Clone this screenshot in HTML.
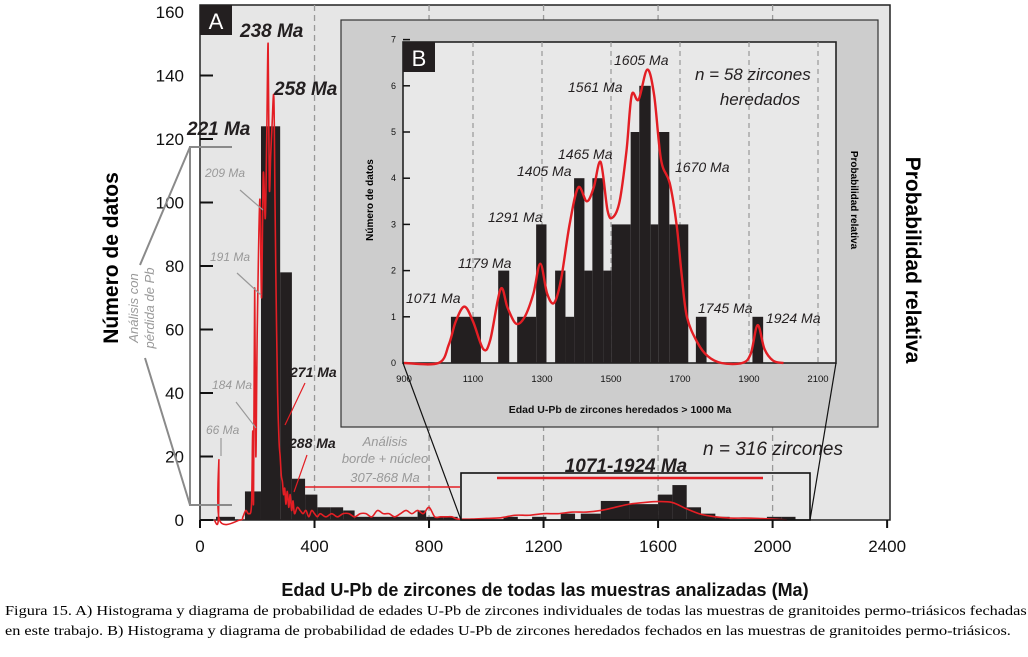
<!DOCTYPE html>
<html><head><meta charset="utf-8"><style>
body{margin:0;background:#fff;width:1028px;height:657px;overflow:hidden}
svg{position:absolute;left:0;top:0}
.cap{position:absolute;left:5px;font-family:"Liberation Serif",serif;font-size:13.8px;color:#000;white-space:nowrap;transform-origin:0 0;transform:scaleX(1.18)}
</style></head><body>
<svg id="chart" width="1028" height="657" xmlns="http://www.w3.org/2000/svg" font-family="Liberation Sans, sans-serif"></svg>
<div class="cap" style="top:603px">Figura 15. A) Histograma y diagrama de probabilidad de edades U-Pb de zircones individuales de todas las muestras de granitoides permo-triásicos fechadas</div>
<div class="cap" style="top:623px">en este trabajo. B) Histograma y diagrama de probabilidad de edades U-Pb de zircones heredados fechados en las muestras de granitoides permo-triásicos.</div>
<script>
// ---- Panel A data ----
const aBinStart=[56,157,213,280,321,367,410,455,500,540,760,790,850,1060,1160,1260,1330,1400,1500,1600,1650,1700,1750,1800,1980,2030];
const aBinEnd=[122,213,280,321,367,410,455,500,540,760,790,850,900,1110,1210,1310,1400,1500,1600,1650,1700,1750,1800,1850,2030,2080];
const aCounts=[1,9,124,78,13,8,4,4,3,1,3,1,1,1,1,2,2,6,5,8,11,4,2,1,1,1];
const aCurveAge=[50,64,66,68,140,150,160,170,180,184,187,191,195,200,209,215,221,228,233,238,242,247,252,258,262,266,271,276,280,284,288,292,296,300,305,310,315,320,325,330,340,350,360,370,380,390,400,410,420,440,460,480,500,520,540,560,580,600,620,640,660,680,700,720,740,760,780,800,820,840,860,880,900,950,1000,1050,1100,1150,1200,1250,1300,1350,1400,1450,1500,1550,1600,1650,1700,1750,1800,1850,1900,1950,2000,2050];
const aCurveVal=[0,0,19,0,0,1,3,2,5,28,6,73,20,60,101,70,109,95,120,150,105,115,125,133,100,70,40,25,20,14,12,8,10,5,9,4,8,3,6,2,4,3,2,3,1,3,2,1,2,1,2,1,2,2,1,2,2,1,3,2,2,1,2,3,2,3,2,4,1,1,1,1,0.3,0.3,0.5,0.7,1.5,1.5,2,2,2.5,2.5,3,4,5,5.5,5.8,5.5,3.5,1.8,1,0.6,0.6,0.5,0.3,0];
const aYTicks=[0,20,40,60,80,100,120,140,160];
const aXTicks=[0,400,800,1200,1600,2000,2400];
// ---- Panel B data ----
const bBinStart=[1036,1173,1228,1283,1338,1368,1393,1423,1446,1478,1502,1557,1582,1615,1637,1669,1746,1910];
const bBinEnd=[1123,1205,1283,1313,1368,1393,1423,1446,1478,1502,1557,1582,1615,1637,1669,1724,1777,1941];
const bCounts=[1,2,1,3,2,1,4,2,4,2,3,5,6,3,5,3,1,1];
const bCurveAge=[900,1000,1030,1050,1075,1100,1130,1150,1180,1200,1225,1250,1275,1295,1315,1335,1355,1380,1405,1430,1450,1470,1490,1505,1525,1545,1560,1580,1605,1625,1645,1670,1690,1705,1720,1750,1780,1820,1880,1905,1925,1945,1970,2000];
const bCurveVal=[0,0,0.4,0.9,1.22,0.9,0.3,0.5,1.6,1.2,0.85,1.0,1.5,2.15,1.5,1.3,1.8,3.0,3.8,3.5,3.8,4.35,3.3,3.15,3.5,4.6,5.8,5.7,6.35,5.8,4.4,3.9,3.0,1.9,1.0,0.45,0.15,0,0,0.2,0.82,0.3,0.05,0];
const bYTicks=[0,1,2,3,4,5,6,7];
const bXTicks=[900,1100,1300,1500,1700,1900,2100];

const svg=document.getElementById('chart');
const NS='http://www.w3.org/2000/svg';
function el(tag,attrs,parent){const e=document.createElementNS(NS,tag);for(const k in attrs)e.setAttribute(k,attrs[k]);(parent||svg).appendChild(e);return e;}
function txt(s,attrs,parent){const e=el('text',attrs,parent);e.textContent=s;return e;}
function smooth(pts){let d='M'+pts[0][0]+','+pts[0][1];for(let i=0;i<pts.length-1;i++){const p0=pts[Math.max(i-1,0)],p1=pts[i],p2=pts[i+1],p3=pts[Math.min(i+2,pts.length-1)];const c1x=p1[0]+(p2[0]-p0[0])/6,c1y=p1[1]+(p2[1]-p0[1])/6,c2x=p2[0]-(p3[0]-p1[0])/6,c2y=p2[1]-(p3[1]-p1[1])/6;d+=' C'+c1x+','+c1y+' '+c2x+','+c2y+' '+p2[0]+','+p2[1];}return d;}

// Panel A scales
const ax=v=>200+v*0.2863, ay=v=>520-v*3.175;
let e;
e=el('rect',{x:200,y:5,width:690,height:515,fill:'#e6e6e6',stroke:'#222','stroke-width':1.5});

aXTicks.slice(1,6).forEach(t=>{const l=el('line',{x1:ax(t),y1:5,x2:ax(t),y2:520,stroke:'#999','stroke-dasharray':'6,4','stroke-width':1.3});});
aYTicks.forEach(t=>{const l=el('line',{x1:200,y1:ay(t),x2:213,y2:ay(t),stroke:'#111','stroke-width':2});
 const s=txt(String(t),{x:184,y:ay(t)+6,'text-anchor':'end','font-size':17,fill:'#111'});});
aXTicks.forEach(t=>{const l=el('line',{x1:ax(t),y1:520,x2:ax(t),y2:528,stroke:'#111','stroke-width':2});
 const s=txt(String(t),{x:ax(t),y:552,'text-anchor':'middle','font-size':17,fill:'#111'});});
aCounts.forEach((c,i)=>{const b=el('rect',{x:ax(aBinStart[i]),y:ay(c),width:ax(aBinEnd[i])-ax(aBinStart[i]),height:ay(0)-ay(c),fill:'#231f20'});});
e=el('path',{d:smooth(aCurveAge.map((a,i)=>[ax(a),ay(aCurveVal[i])])),fill:'none',stroke:'#e31e24','stroke-width':1.6});


// Inset
e=el('rect',{x:341,y:20,width:537,height:407,fill:'#cdcdcd',stroke:'#333','stroke-width':1.2});

const bx=v=>404+(v-900)*0.345, by=v=>363-v*46.2;
e=el('rect',{x:403,y:42,width:433,height:321,fill:'#e8e8e8',stroke:'#222','stroke-width':1.6});

bXTicks.slice(1).forEach(t=>{const l=el('line',{x1:bx(t),y1:42,x2:bx(t),y2:363,stroke:'#999','stroke-dasharray':'5,4','stroke-width':1.2});});
bYTicks.forEach(t=>{const l=el('line',{x1:403,y1:by(t),x2:410,y2:by(t),stroke:'#111','stroke-width':1.5});
 const s=txt(String(t),{x:396,y:by(t)+3,'text-anchor':'end','font-size':9,fill:'#111'});});
bXTicks.forEach(t=>{const s=txt(String(t),{x:bx(t),y:382,'text-anchor':'middle','font-size':9.5,fill:'#111'});});
bCounts.forEach((c,i)=>{const b=el('rect',{x:bx(bBinStart[i]),y:by(c),width:bx(bBinEnd[i])-bx(bBinStart[i]),height:by(0)-by(c),fill:'#231f20'});});
e=el('path',{d:smooth(bCurveAge.map((a,i)=>[bx(a),by(bCurveVal[i])])),fill:'none',stroke:'#e31e24','stroke-width':2.4});


// connectors and bracket box
e=el('rect',{x:461,y:473,width:349,height:47,fill:'none',stroke:'#111','stroke-width':1.6});
e=el('line',{x1:403,y1:363,x2:461,y2:520,stroke:'#111','stroke-width':1.2});
e=el('line',{x1:836,y1:363,x2:810,y2:520,stroke:'#111','stroke-width':1.2});
e=el('line',{x1:497,y1:478,x2:763,y2:478,stroke:'#e31e24','stroke-width':2.5});
e=el('line',{x1:305,y1:487,x2:460,y2:487,stroke:'#e31e24','stroke-width':1.5});
e=el('path',{d:'M232,147 H190 V505 H232 M190,147 L140,265 M190,505 L145,358',fill:'none',stroke:'#8a8a8a','stroke-width':2});

// panel letters
e=el('rect',{x:200,y:5,width:32,height:30,fill:'#231f20'});
e=txt('A',{x:216,y:29,'text-anchor':'middle','font-size':22,fill:'#fff'});
e=el('rect',{x:403,y:42,width:32,height:30,fill:'#231f20'});
e=txt('B',{x:419,y:66,'text-anchor':'middle','font-size':22,fill:'#fff'});

function lab(s,x,y,size,opts){const a=Object.assign({x:x,y:y,'font-size':size,'font-style':'italic',fill:'#231f20'},opts||{});const t=txt(s,a);return t;}
lab('238 Ma',240,37,19,{'font-weight':'bold'});
lab('258 Ma',274,95,19,{'font-weight':'bold'});
lab('221 Ma',187,135,19,{'font-weight':'bold'});
lab('209 Ma',205,177,12,{fill:'#999'});
lab('191 Ma',210,261,12,{fill:'#999'});
lab('184 Ma',212,389,12,{fill:'#999'});
lab('66 Ma',206,434,12,{fill:'#999'});
lab('271 Ma',290,377,14,{'font-weight':'bold'});
lab('288 Ma',289,448,14,{'font-weight':'bold'});
lab('Análisis',385,446,13,{fill:'#999','text-anchor':'middle'});
lab('borde + núcleo',385,463,13,{fill:'#999','text-anchor':'middle'});
lab('307-868 Ma',385,482,13,{fill:'#999','text-anchor':'middle'});
lab('n = 316 zircones',703,455,19);
lab('1071-1924 Ma',626,472,19,{'font-weight':'bold','text-anchor':'middle'});
// arrows
e=el('path',{d:'M240,190 L263,210 M237,273 L261,295 M236,402 L256,428 M221,438 L221,456',fill:'none',stroke:'#999','stroke-width':1.2});
e=el('path',{d:'M305,383 L285,425 M307,455 L294,492',fill:'none',stroke:'#e31e24','stroke-width':1.2});
// inset labels
lab('1071 Ma',406,303,14);lab('1179 Ma',458,268,14);lab('1291 Ma',488,222,14);
lab('1405 Ma',517,176,14);lab('1465 Ma',558,159,14);lab('1561 Ma',568,92,14);
lab('1605 Ma',614,65,14);lab('1670 Ma',675,172,14);lab('1745 Ma',698,313,14);lab('1924 Ma',766,323,14);
lab('n = 58 zircones',695,80,17);lab('heredados',760,105,17,{'text-anchor':'middle'});

// axis titles
function vt(s,x,y,size,opts,name){const a=Object.assign({x:0,y:0,'font-size':size,'text-anchor':'middle',transform:'translate('+x+','+y+') rotate('+(opts.rot||-90)+')',fill:'#000'},opts.a||{});const t=txt(s,a);}
vt('Número de datos',118,258,21,{a:{'font-weight':'bold'}},'y-axis-title-a');
vt('Probabilidad relativa',906,260,21,{rot:90,a:{'font-weight':'bold'}},'y2-axis-title-a');
vt('Análisis con',138,308,13,{a:{'font-style':'italic',fill:'#999'}},'pb-loss-label-1');
vt('pérdida de Pb',154,308,13,{a:{'font-style':'italic',fill:'#999'}},'pb-loss-label-2');
vt('Número de datos',373,200,10,{a:{'font-weight':'bold'}},'y-axis-title-b');
vt('Probabilidad relativa',851,200,10,{rot:90,a:{'font-weight':'bold'}},'y2-axis-title-b');
e=txt('Edad U-Pb de zircones heredados > 1000 Ma',{x:620,y:413,'text-anchor':'middle','font-size':10.5,'font-weight':'bold',fill:'#111'});
e=txt('Edad U-Pb de zircones de todas las muestras analizadas (Ma)',{x:545,y:596,'text-anchor':'middle','font-size':18,'font-weight':'bold',fill:'#111'});
</script>
</body></html>
